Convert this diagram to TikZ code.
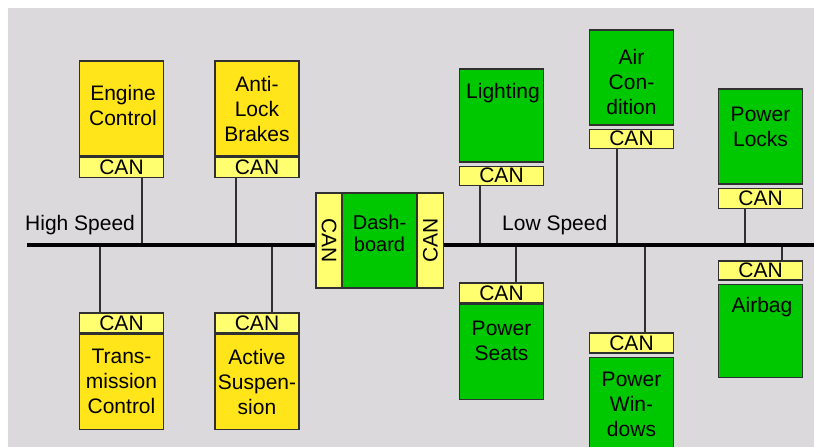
\documentclass[tikz,border=0pt]{standalone}
\usepackage{fontspec}
\setmainfont{Liberation Sans}
\usetikzlibrary{positioning}
\definecolor{canbg}{HTML}{DCD9DC}
\definecolor{canyellow}{HTML}{FFE51A}
\definecolor{canlight}{HTML}{FFFF70}
\definecolor{cangreen}{HTML}{00C800}
\definecolor{canedge}{HTML}{303030}

\begin{document}
\begin{tikzpicture}[
    ecu/.style={rectangle, draw=canedge, line width=1.2pt, minimum width=84pt, minimum height=95pt,
        inner sep=0pt, align=center, font=\fontsize{21}{25}\selectfont},
    fast/.style={ecu, fill=canyellow},
    slow/.style={ecu, fill=cangreen},
    can/.style={rectangle, draw=canedge, line width=1.2pt, fill=canlight, minimum width=84pt,
        minimum height=20pt, inner sep=0pt, font=\fontsize{21}{21}\selectfont},
    txt/.style={align=center, inner sep=0pt, font=\fontsize{21}{25}\selectfont},
    bus/.style={line width=4.5pt},
    wire/.style={line width=1.3pt, draw=canedge},
    x=1pt, y=-1pt]

    % ----- page and background
    \useasboundingbox (0, 0) rectangle (814, 447);
    \fill[canbg] (8, 8) rectangle (814, 447);

    % ----- bus ends
    \coordinate (hs) at (27, 245);
    \coordinate (ls) at (814, 245);

    % ----- high speed modules (yellow)
    \node[fast] (engine) at (121.5, 108.5) {};
    \node[txt] (engine-t) at (123, 105.5) {Engine\\Control};
    \node[can, below=0pt of engine] (engine-can) {CAN};
    \node[fast] (abs) at (257, 108.5) {Anti-\\Lock\\Brakes};
    \node[can, below=0pt of abs] (abs-can) {CAN};
    \node[can] (trans-can) at (121.5, 323) {CAN};
    \node[fast, below=0pt of trans-can] (trans) {Trans-\\mission\\Control};
    \node[can] (susp-can) at (257, 323) {CAN};
    \node[fast, below=0pt of susp-can] (susp) {Active\\Suspen-\\sion};

    % ----- gateway
    \node[slow, minimum width=75pt] (dash) at (379.5, 240.5) {};
    \node[txt, font=\fontsize{20}{22}\selectfont] (dash-t) at (379.5, 233) {Dash-\\board};
    \node[can, rotate=-90, minimum width=95pt, minimum height=26pt] (dash-l) at (329, 240.5) {CAN};
    \node[can, rotate=90, minimum width=95pt, minimum height=26pt] (dash-r) at (430.5, 240.5) {CAN};

    % ----- low speed modules (green)
    \node[slow, minimum height=93pt] (light) at (501.5, 115.5) {};
    \node[txt] (light-t) at (503, 93) {Lighting};
    \node[can, minimum height=19pt, below=3pt of light] (light-can) {CAN};
    \node[slow] (air) at (631.5, 77.5) {};
    \node[txt] (air-t) at (631.5, 81.5) {Air\\Con-\\dition};
    \node[can, minimum height=19pt, below=3pt of air] (air-can) {CAN};
    \node[slow] (locks) at (760.5, 136.5) {};
    \node[txt] (locks-t) at (760.5, 127) {Power\\Locks};
    \node[can, below=3pt of locks] (locks-can) {CAN};
    \node[can] (seats-can) at (501.5, 293) {CAN};
    \node[slow, below=0pt of seats-can] (seats) {};
    \node[txt] (seats-t) at (501.5, 341) {Power\\Seats};
    \node[can] (win-can) at (631.5, 343) {CAN};
    \node[slow, below=3pt of win-can] (win) {Power\\Win-\\dows};
    \node[can, minimum height=19pt] (bag-can) at (760.5, 270.5) {CAN};
    \node[slow, minimum height=93pt, below=3pt of bag-can] (bag) {};
    \node[txt] (bag-t) at (762, 307) {Airbag};

    % ----- drops from each CAN controller to its bus
    \foreach \m/\dx in {engine/20.5, abs/-21, light/-21.5, air/-14.5, locks/-15.5} {
        \draw[wire] ([xshift=\dx pt]\m-can.south) -- ([xshift=\dx pt]\m-can.south |- hs);
    }
    \foreach \m/\dx in {trans/-21.5, susp/15, seats/14.5, win/13.5, bag/21.5} {
        \draw[wire] ([xshift=\dx pt]\m-can.north) -- ([xshift=\dx pt]\m-can.north |- hs);
    }

    % ----- the two buses
    \draw[bus] (hs) -- (hs -| dash-l.south);
    \draw[bus] (ls -| dash-r.south) -- (ls);
    \node[txt, anchor=base west] (hs-label) at (25, 230) {High Speed};
    \node[txt, anchor=base west] (ls-label) at (502, 230) {Low Speed};
\end{tikzpicture}
\end{document}
